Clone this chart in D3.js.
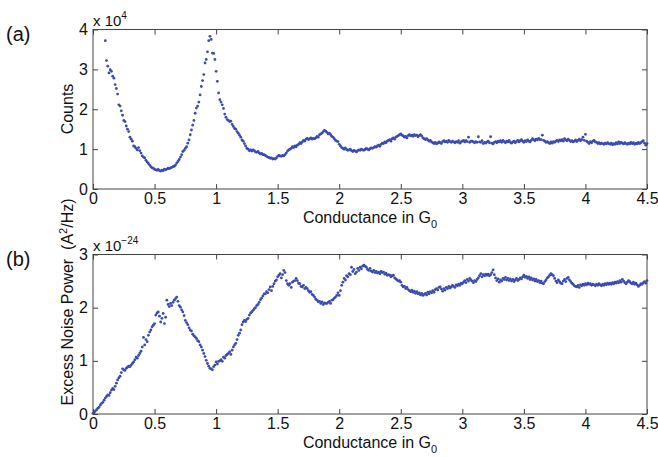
<!DOCTYPE html>
<html>
<head>
<meta charset="utf-8">
<script src="https://cdn.jsdelivr.net/npm/d3@7"></script>
<style>
  body { margin: 0; background: #fff; }
  text { font-family: "Liberation Sans", Arial, sans-serif; fill: #111; }
</style>
</head>
<body>
<script>
// conductance bins (in G0)
var binWidth = 0.01;
var countsStart = 0.10;
var noiseStart = 0.00;

// (a) histogram counts, in units of 1e4, one value per bin from 0.10 to 4.50
var counts = [
  3.72, 3.22, 3.08, 2.91, 2.99, 2.95, 2.83, 2.78, 2.62, 2.52,
  2.38, 2.11, 2.08, 1.96, 1.85, 1.72, 1.69, 1.58, 1.50, 1.44,
  1.30, 1.25, 1.20, 1.08, 1.06, 1.02, 0.98, 1.04, 0.96, 0.90,
  0.83, 0.80, 0.78, 0.72, 0.68, 0.64, 0.60, 0.56, 0.53, 0.52,
  0.49, 0.48, 0.47, 0.49, 0.46, 0.45, 0.47, 0.46, 0.50, 0.48,
  0.50, 0.52, 0.51, 0.53, 0.54, 0.56, 0.57, 0.60, 0.65, 0.69,
  0.74, 0.80, 0.86, 0.94, 0.97, 1.02, 1.06, 1.15, 1.23, 1.36,
  1.48, 1.60, 1.72, 1.90, 2.03, 2.08, 2.18, 2.36, 2.57, 2.72,
  2.87, 3.16, 3.25, 3.44, 3.72, 3.83, 3.75, 3.41, 3.40, 3.25,
  2.95, 2.70, 2.41, 2.24, 2.18, 2.11, 2.02, 1.88, 1.80, 1.74,
  1.72, 1.69, 1.70, 1.62, 1.57, 1.52, 1.50, 1.44, 1.40, 1.35,
  1.30, 1.23, 1.20, 1.14, 1.08, 1.02, 1.00, 0.96, 0.98, 0.95,
  0.98, 0.96, 0.93, 0.92, 0.94, 0.90, 0.88, 0.89, 0.86, 0.86,
  0.84, 0.82, 0.80, 0.79, 0.77, 0.78, 0.75, 0.76, 0.75, 0.78,
  0.82, 0.84, 0.83, 0.82, 0.84, 0.83, 0.86, 0.90, 0.95, 0.98,
  1.00, 1.02, 1.06, 1.04, 1.08, 1.06, 1.10, 1.12, 1.16, 1.14,
  1.18, 1.22, 1.20, 1.25, 1.27, 1.24, 1.26, 1.28, 1.25, 1.27,
  1.26, 1.28, 1.32, 1.30, 1.36, 1.38, 1.40, 1.44, 1.47, 1.45,
  1.42, 1.38, 1.40, 1.36, 1.32, 1.30, 1.26, 1.22, 1.20, 1.19,
  1.12, 1.08, 1.04, 1.02, 1.00, 1.03, 0.99, 0.97, 0.98, 1.00,
  0.96, 0.94, 0.97, 0.95, 0.93, 0.96, 0.98, 0.97, 1.00, 0.98,
  0.97, 0.99, 1.02, 1.00, 0.98, 1.01, 1.03, 1.02, 1.04, 1.06,
  1.05, 1.08, 1.10, 1.07, 1.12, 1.15, 1.14, 1.18, 1.16, 1.20,
  1.22, 1.24, 1.20, 1.26, 1.28, 1.25, 1.30, 1.32, 1.34, 1.36,
  1.38, 1.35, 1.33, 1.30, 1.32, 1.28, 1.34, 1.36, 1.33, 1.35,
  1.32, 1.36, 1.34, 1.35, 1.31, 1.34, 1.36, 1.33, 1.28, 1.26,
  1.24, 1.26, 1.23, 1.20, 1.22, 1.18, 1.16, 1.14, 1.17, 1.13,
  1.15, 1.18, 1.16, 1.14, 1.19, 1.21, 1.18, 1.20, 1.17, 1.22,
  1.19, 1.17, 1.20, 1.18, 1.16, 1.19, 1.17, 1.21, 1.15, 1.18,
  1.20, 1.22, 1.18, 1.21, 1.19, 1.30, 1.17, 1.20, 1.20, 1.18,
  1.16, 1.19, 1.17, 1.31, 1.18, 1.17, 1.21, 1.14, 1.17, 1.15,
  1.18, 1.20, 1.16, 1.31, 1.15, 1.13, 1.17, 1.19, 1.16, 1.20,
  1.18, 1.21, 1.17, 1.22, 1.19, 1.16, 1.20, 1.18, 1.22, 1.17,
  1.15, 1.18, 1.20, 1.16, 1.19, 1.22, 1.18, 1.21, 1.24, 1.20,
  1.17, 1.21, 1.19, 1.23, 1.20, 1.18, 1.22, 1.26, 1.24, 1.21,
  1.25, 1.23, 1.27, 1.24, 1.24, 1.35, 1.22, 1.20, 1.17, 1.19,
  1.16, 1.14, 1.18, 1.15, 1.19, 1.17, 1.20, 1.22, 1.19, 1.23,
  1.21, 1.24, 1.20, 1.26, 1.23, 1.21, 1.25, 1.22, 1.19, 1.21,
  1.18, 1.20, 1.23, 1.19, 1.22, 1.25, 1.21, 1.24, 1.30, 1.22,
  1.37, 1.20, 1.17, 1.14, 1.19, 1.16, 1.20, 1.22, 1.18, 1.17,
  1.14, 1.16, 1.13, 1.15, 1.14, 1.12, 1.15, 1.13, 1.16, 1.14,
  1.12, 1.15, 1.11, 1.14, 1.12, 1.16, 1.13, 1.18, 1.14, 1.17,
  1.15, 1.13, 1.16, 1.14, 1.12, 1.15, 1.13, 1.17, 1.14, 1.16,
  1.12, 1.15, 1.13, 1.17, 1.14, 1.16, 1.19, 1.21, 1.15, 1.10,
  1.14
];

// (b) excess noise power, in units of 1e-24 A^2/Hz, one value per bin from 0.00 to 4.50
var noise = [
  0.01, 0.03, 0.06, 0.08, 0.11, 0.13, 0.17, 0.20, 0.22, 0.26,
  0.30, 0.33, 0.36, 0.35, 0.40, 0.45, 0.48, 0.46, 0.52, 0.58,
  0.64, 0.68, 0.71, 0.78, 0.85, 0.83, 0.82, 0.86, 0.88, 0.90,
  0.89, 0.92, 0.95, 0.98, 1.02, 1.07, 1.05, 1.10, 1.14, 1.18,
  1.26, 1.44, 1.30, 1.40, 1.36, 1.48, 1.54, 1.58, 1.64, 1.67,
  1.70, 1.86, 1.90, 1.92, 1.84, 1.73, 1.80, 1.89, 1.70, 1.82,
  2.14, 2.06, 2.02, 2.08, 2.04, 2.10, 2.14, 2.17, 2.20, 2.12,
  2.04, 2.01, 1.96, 1.92, 1.85, 1.76, 1.72, 1.68, 1.62, 1.58,
  1.56, 1.50, 1.47, 1.45, 1.42, 1.38, 1.36, 1.30, 1.26, 1.20,
  1.14, 1.08, 1.01, 0.95, 0.90, 0.86, 0.85, 0.83, 0.89, 0.92,
  0.98, 0.94, 0.99, 1.00, 1.02, 0.99, 1.07, 1.05, 1.10, 1.12,
  1.14, 1.17, 1.12, 1.20, 1.26, 1.30, 1.33, 1.40, 1.48, 1.52,
  1.58, 1.68, 1.73, 1.76, 1.74, 1.78, 1.80, 1.86, 1.90, 1.92,
  1.95, 1.98, 2.00, 2.04, 2.06, 2.10, 2.15, 2.18, 2.22, 2.26,
  2.26, 2.30, 2.28, 2.34, 2.39, 2.32, 2.40, 2.45, 2.50, 2.52,
  2.58, 2.61, 2.64, 2.56, 2.62, 2.70, 2.66, 2.51, 2.45, 2.42,
  2.45, 2.38, 2.48, 2.50, 2.51, 2.55, 2.51, 2.46, 2.45, 2.40,
  2.39, 2.42, 2.36, 2.38, 2.36, 2.32, 2.29, 2.30, 2.25, 2.23,
  2.20, 2.16, 2.14, 2.11, 2.12, 2.08, 2.11, 2.06, 2.09, 2.08,
  2.08, 2.10, 2.12, 2.08, 2.14, 2.15, 2.18, 2.20, 2.23, 2.28,
  2.23, 2.32, 2.42, 2.48, 2.55, 2.52, 2.60, 2.58, 2.64, 2.62,
  2.76, 2.68, 2.72, 2.64, 2.67, 2.74, 2.70, 2.76, 2.73, 2.78,
  2.80, 2.78, 2.76, 2.72, 2.70, 2.74, 2.69, 2.67, 2.70, 2.66,
  2.68, 2.65, 2.67, 2.64, 2.68, 2.66, 2.67, 2.63, 2.65, 2.61,
  2.62, 2.61, 2.58, 2.60, 2.61, 2.56, 2.54, 2.52, 2.50, 2.51,
  2.48, 2.42, 2.39, 2.40, 2.36, 2.38, 2.34, 2.32, 2.30, 2.33,
  2.29, 2.31, 2.27, 2.30, 2.26, 2.28, 2.24, 2.27, 2.23, 2.25,
  2.27, 2.24, 2.29, 2.26, 2.30, 2.28, 2.32, 2.29, 2.34, 2.36,
  2.33, 2.38, 2.39, 2.35, 2.31, 2.36, 2.33, 2.38, 2.36, 2.40,
  2.37, 2.39, 2.42, 2.40, 2.38, 2.43, 2.41, 2.44, 2.42, 2.46,
  2.45, 2.48, 2.51, 2.47, 2.53, 2.50, 2.55, 2.52, 2.50, 2.47,
  2.51, 2.49, 2.53, 2.56, 2.60, 2.64, 2.58, 2.62, 2.60, 2.63,
  2.61, 2.63, 2.60, 2.62, 2.66, 2.71, 2.62, 2.56, 2.51, 2.54,
  2.48, 2.52, 2.50, 2.55, 2.53, 2.57, 2.52, 2.55, 2.51, 2.54,
  2.50, 2.53, 2.49, 2.52, 2.55, 2.51, 2.53, 2.56, 2.54, 2.58,
  2.61, 2.57, 2.59, 2.55, 2.58, 2.53, 2.56, 2.52, 2.54, 2.50,
  2.53, 2.49, 2.51, 2.47, 2.50, 2.46, 2.45, 2.49, 2.52, 2.56,
  2.58, 2.61, 2.64, 2.62, 2.60, 2.55, 2.50, 2.47, 2.52, 2.49,
  2.46, 2.45, 2.50, 2.53, 2.49, 2.55, 2.57, 2.52, 2.49, 2.46,
  2.44, 2.41, 2.40, 2.39, 2.42, 2.38, 2.43, 2.41, 2.44, 2.42,
  2.45, 2.43, 2.46, 2.44, 2.45, 2.42, 2.44, 2.43, 2.41, 2.44,
  2.42, 2.45, 2.43, 2.41, 2.44, 2.42, 2.45, 2.43, 2.46, 2.44,
  2.46, 2.44, 2.47, 2.45, 2.48, 2.46, 2.49, 2.47, 2.51, 2.48,
  2.53, 2.50, 2.47, 2.45, 2.48, 2.51, 2.49, 2.46, 2.45, 2.48,
  2.44, 2.46, 2.43, 2.40, 2.42, 2.45, 2.44, 2.47, 2.49, 2.46,
  2.51
];

var xTicks = [0, 0.5, 1, 1.5, 2, 2.5, 3, 3.5, 4, 4.5];
var countsTicks = [0, 1, 2, 3, 4];
var noiseTicks = [0, 1, 2, 3];

var W = 658, H = 457;
var left = 93, right = 647;
var dotColor = "#3a4caf";
var frameColor = "#444";

var svg = d3.select("body").append("svg")
  .attr("width", W)
  .attr("height", H);

var x = d3.scaleLinear().domain([0, 4.5]).range([left, right]);

function panel(opt) {
  var y = d3.scaleLinear().domain(opt.yDomain).range([opt.bottom, opt.top]);
  var g = svg.append("g");

  // dots
  g.append("g").selectAll("circle")
    .data(opt.values)
    .enter().append("circle")
      .attr("cx", function(d, i) { return x(opt.start + i * binWidth); })
      .attr("cy", function(d) { return y(d); })
      .attr("r", 1.4)
      .attr("fill", dotColor);

  // frame
  g.append("rect")
    .attr("x", left).attr("y", opt.top)
    .attr("width", right - left).attr("height", opt.bottom - opt.top)
    .attr("fill", "none").attr("stroke", frameColor).attr("stroke-width", 1);

  // axes, ticks pointing inward
  var fmt = d3.format("~g");
  var xb = g.append("g").attr("transform", "translate(0," + opt.bottom + ")")
    .call(d3.axisBottom(x).tickValues(xTicks).tickFormat(fmt).tickSize(-5).tickPadding(4));
  var xt = g.append("g").attr("transform", "translate(0," + opt.top + ")")
    .call(d3.axisTop(x).tickValues(xTicks).tickFormat("").tickSize(-5));
  var yl = g.append("g").attr("transform", "translate(" + left + ",0)")
    .call(d3.axisLeft(y).tickValues(opt.yTicks).tickFormat(fmt).tickSize(-5).tickPadding(5));
  var yr = g.append("g").attr("transform", "translate(" + right + ",0)")
    .call(d3.axisRight(y).tickValues(opt.yTicks).tickFormat("").tickSize(-5));

  [xb, xt, yl, yr].forEach(function(a) {
    a.select(".domain").remove();
    a.selectAll(".tick line").attr("stroke", frameColor);
    a.selectAll(".tick text").style("font-size", "16px").attr("fill", "#111");
  });

  // x label
  var xl = g.append("text")
    .attr("x", 370).attr("y", opt.bottom + 34)
    .attr("text-anchor", "middle")
    .style("font-size", "16px");
  xl.append("tspan").text("Conductance in G");
  xl.append("tspan").attr("dy", 5).style("font-size", "11px").text("0");

  // multiplier
  var m = g.append("text")
    .attr("x", left).attr("y", opt.top - 4)
    .style("font-size", "15px");
  m.append("tspan").text("x 10");
  m.append("tspan").attr("dy", -7).style("font-size", "10px").text(opt.exp);

  // panel letter
  g.append("text")
    .attr("x", 6).attr("y", opt.top + 11)
    .style("font-size", "20px")
    .text(opt.letter);

  // y label
  var t = g.append("text")
    .attr("transform", "translate(" + 73 + "," + opt.labelY + ") rotate(-90)")
    .attr("text-anchor", "middle")
    .style("font-size", "16px");
  opt.ylabel(t);
}

panel({
  values: counts, start: countsStart,
  yDomain: [0, 4], yTicks: countsTicks,
  top: 29.5, bottom: 189,
  exp: "4", letter: "(a)", labelY: 109,
  ylabel: function(t) { t.text("Counts"); }
});

panel({
  values: noise, start: noiseStart,
  yDomain: [0, 3], yTicks: noiseTicks,
  top: 254.5, bottom: 414,
  exp: "\u221224", letter: "(b)", labelY: 302,
  ylabel: function(t) {
    t.append("tspan").text("Excess Noise Power\u00a0\u00a0(A");
    t.append("tspan").attr("dy", -6).style("font-size", "11px").text("2");
    t.append("tspan").attr("dy", 6).text("/Hz)");
  }
});
</script>
</body>
</html>
